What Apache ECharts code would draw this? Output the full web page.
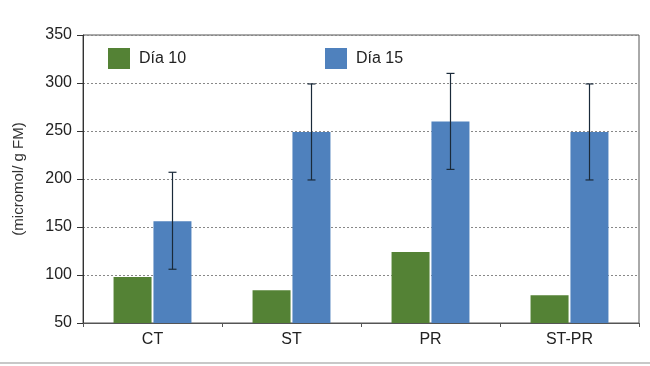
<!DOCTYPE html>
<html>
<head>
<meta charset="utf-8">
<script src="https://cdn.jsdelivr.net/npm/echarts@6/dist/echarts.min.js"></script>
<style>
html,body{margin:0;padding:0;background:#fff;}
#c{width:650px;height:366px;}
</style>
</head>
<body>
<div id="c"></div>
<script>
const categories = ['CT', 'ST', 'PR', 'ST-PR'];
const dia10 = [98, 84, 124, 79];
const dia15 = [156, 249, 260, 249];
const errLow15 = [106, 199, 210, 199];
const errHigh15 = [207, 299, 310, 299];
const yTicks = [50, 100, 150, 200, 250, 300, 350];

const FONT = '"Liberation Sans", Arial, sans-serif';
const chart = echarts.init(document.getElementById('c'), null, {renderer: 'canvas'});

const errData = categories.map((c, i) => [i, errLow15[i], errHigh15[i]]);

chart.setOption({
  animation: false,
  textStyle: {fontFamily: FONT},
  grid: {left: 83, right: 11, top: 35, bottom: 43, show: true, borderColor: '#555', borderWidth: 1},
  legend: [
    {data: ['Día 10'], left: 108, top: 48, padding: 0, itemWidth: 22, itemHeight: 21, icon: 'rect',
     textStyle: {fontSize: 16, color: '#222', fontFamily: FONT, padding: [0, 0, 0, 4]}},
    {data: ['Día 15'], left: 325, top: 48, padding: 0, itemWidth: 22, itemHeight: 21, icon: 'rect',
     textStyle: {fontSize: 16, color: '#222', fontFamily: FONT, padding: [0, 0, 0, 4]}}
  ],
  xAxis: {
    type: 'category', data: categories, boundaryGap: true,
    axisLine: {lineStyle: {color: '#555', width: 1}},
    axisTick: {show: true, length: 4, lineStyle: {color: '#555'}},
    axisLabel: {fontSize: 16, color: '#222', margin: 9, fontFamily: FONT},
    splitLine: {show: false}
  },
  yAxis: {
    type: 'value', min: yTicks[0], max: yTicks[yTicks.length - 1], interval: 50,
    name: '(micromol/ g FM)', nameLocation: 'middle', nameGap: 57,
    nameTextStyle: {fontSize: 15, color: '#333', fontFamily: FONT},
    axisLine: {show: true, lineStyle: {color: '#333', width: 1}},
    axisTick: {show: true, length: 6, lineStyle: {color: '#333'}},
    axisLabel: {fontSize: 16, color: '#222', margin: 11, fontFamily: FONT},
    splitLine: {show: true, lineStyle: {color: '#888', type: [2, 2], width: 1}}
  },
  series: [
    {name: 'Día 10', type: 'bar', data: dia10, barWidth: 38, barGap: '5%',
     itemStyle: {color: '#548235'}},
    {name: 'Día 15', type: 'bar', data: dia15, barWidth: 38,
     itemStyle: {color: '#4f81bd'}},
    {type: 'custom', data: errData, z: 10, silent: true,
     renderItem: function (params, api) {
       const off = 20;
       const lo = api.coord([api.value(0), api.value(1)]);
       const hi = api.coord([api.value(0), api.value(2)]);
       const x = lo[0] + off;
       const cap = 4;
       const style = {stroke: '#1a2a3a', lineWidth: 1.2};
       return {type: 'group', children: [
         {type: 'line', shape: {x1: x, y1: hi[1], x2: x, y2: lo[1]}, style: style},
         {type: 'line', shape: {x1: x - cap, y1: hi[1], x2: x + cap, y2: hi[1]}, style: style},
         {type: 'line', shape: {x1: x - cap, y1: lo[1], x2: x + cap, y2: lo[1]}, style: style}
       ]};
     }}
  ],
  graphic: [
    {type: 'rect', left: 0, top: 362, shape: {width: 650, height: 2}, style: {fill: '#c8c8c8'}, silent: true}
  ]
});
</script>
</body>
</html>
